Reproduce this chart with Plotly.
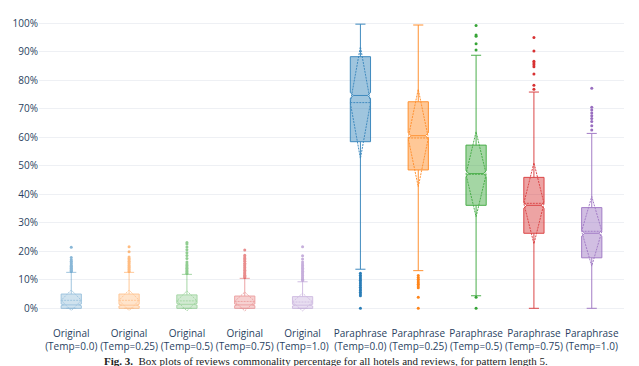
import plotly.graph_objects as go

categories = [
    "Original<br>(Temp=0.0)", "Original<br>(Temp=0.25)", "Original<br>(Temp=0.5)",
    "Original<br>(Temp=0.75)", "Original<br>(Temp=1.0)",
    "Paraphrase<br>(Temp=0.0)", "Paraphrase<br>(Temp=0.25)", "Paraphrase<br>(Temp=0.5)",
    "Paraphrase<br>(Temp=0.75)", "Paraphrase<br>(Temp=1.0)",
]
q1_vals = [0.0, 0.0, 0.0, 0.0, 0.0, 58.4, 48.5, 36.1, 26.3, 17.7]
median_vals = [1.2, 1.1, 1.4, 1.2, 1.1, 74.6, 60.5, 47.2, 36.1, 26.3]
q3_vals = [5.0, 5.0, 4.7, 4.3, 4.1, 88.2, 72.4, 57.2, 45.9, 35.3]
lowerfence_vals = [0.0, 0.0, 0.0, 0.0, 0.0, 13.7, 13.2, 4.4, 0.0, 0.0]
upperfence_vals = [12.6, 12.6, 11.9, 10.5, 9.3, 99.6, 99.3, 88.7, 75.8, 61.3]
mean_vals = [2.8, 2.8, 2.6, 2.4, 2.2, 72.1, 59.7, 47.0, 36.8, 27.0]
sd_vals = [3.6, 3.6, 3.5, 3.3, 3.1, 19.6, 17.1, 14.9, 14.2, 12.2]
notchspan_vals = [0.3, 0.3, 0.3, 0.3, 0.3, 1.0, 1.0, 1.0, 1.0, 1.0]
outliers = [
    [13.0, 13.3, 13.6, 14.0, 14.3, 14.7, 15.0, 15.5, 16.0, 16.5, 17.0, 17.8, 21.4],
    [13.0, 13.4, 13.8, 14.2, 14.6, 15.0, 15.5, 16.0, 16.5, 17.0, 17.5, 18.0, 19.8, 21.6],
    [12.3, 12.7, 13.1, 13.5, 14.0, 14.5, 15.0, 15.5, 16.2, 17.5, 18.5, 19.5, 20.5, 21.5, 22.5, 23.1],
    [10.8, 11.2, 11.6, 12.0, 12.4, 12.8, 13.3, 13.8, 14.3, 14.8, 15.3, 15.8, 16.5, 17.0, 17.5, 18.0, 18.6, 20.4],
    [9.8, 10.2, 10.6, 11.0, 11.5, 12.0, 12.5, 13.0, 13.5, 14.0, 14.5, 15.0, 15.5, 16.2, 17.3, 18.4, 21.6],
    [12.3, 11.6, 11.0, 10.4, 9.8, 9.2, 8.6, 8.0, 7.4, 6.8, 6.2, 5.6, 5.0, 4.4, 0.0],
    [11.5, 10.8, 10.2, 9.6, 9.0, 8.4, 7.8, 7.2, 3.9, 0.0],
    [99.1, 95.8, 95.4, 92.7, 90.5, 3.9, 0.0],
    [94.9, 90.2, 86.6, 86.0, 85.4, 84.7, 82.1, 78.2, 76.8],
    [77.1, 70.5, 69.5, 68.5, 67.5, 66.5, 65.5, 64.0, 62.5],
]
palette = ["#1f77b4", "#ff7f0e", "#2ca02c", "#d62728", "#9467bd"]
trace_opacity = [0.42, 0.42, 0.42, 0.42, 0.42, 0.85, 0.85, 0.85, 0.85, 0.85]
caption = "<b>Fig. 3.</b>  Box plots of reviews commonality percentage for all hotels and reviews, for pattern length 5."

fig = go.Figure()
for i, cat in enumerate(categories):
    c = palette[i % len(palette)]
    fig.add_trace(go.Box(
        x=[cat], q1=[q1_vals[i]], median=[median_vals[i]], q3=[q3_vals[i]],
        lowerfence=[lowerfence_vals[i]], upperfence=[upperfence_vals[i]],
        mean=[mean_vals[i]], sd=[sd_vals[i]], notchspan=[notchspan_vals[i]],
        notched=True, notchwidth=0.15, boxmean="sd", boxpoints=False,
        marker_color=c, line=dict(color=c, width=1), opacity=trace_opacity[i],
        showlegend=False, name=cat,
    ))
    fig.add_trace(go.Scatter(
        x=[cat] * len(outliers[i]), y=outliers[i], mode="markers",
        marker=dict(color=c, size=3), opacity=trace_opacity[i] + 0.1,
        showlegend=False, hoverinfo="y",
    ))

fig.update_layout(
    template="plotly_white",
    width=639, height=366,
    margin=dict(l=31, r=23, t=4, b=51, autoexpand=False),
    boxgap=0.5,
    font=dict(size=10, color="#2a3f5f"),
    plot_bgcolor="white", paper_bgcolor="white",
)
fig.update_yaxes(range=[-5.15, 103.86], dtick=10, ticksuffix="%", showgrid=True,
                 gridcolor="#eef0f4", zeroline=False, automargin=False)
fig.update_xaxes(showgrid=False, type="category", tickangle=0, automargin=False,
                 ticklabelstandoff=3)
fig.add_annotation(text=caption, xref="paper", yref="paper", x=0.49, y=-0.098,
                   xanchor="center", yanchor="top", showarrow=False,
                   font=dict(family="Liberation Serif", size=11, color="#222222"))
fig.write_html("out.html")
